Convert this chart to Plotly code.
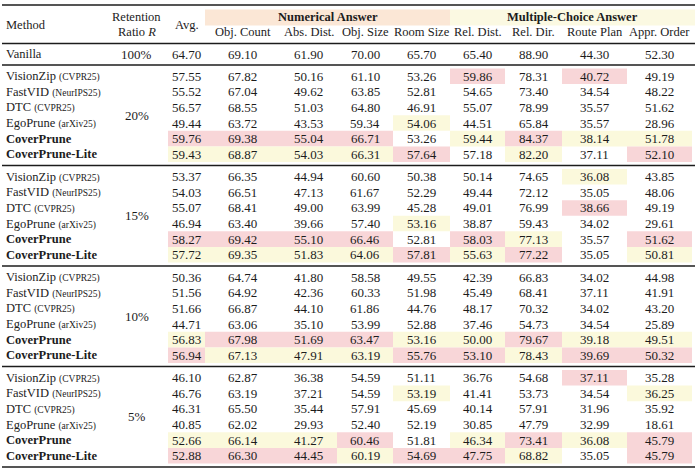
import plotly.graph_objects as go

# table content
columns = ["Avg.", "Obj. Count", "Abs. Dist.", "Obj. Size", "Room Size",
           "Rel. Dist.", "Rel. Dir.", "Route Plan", "Appr. Order"]
methods = ["VisionZip", "FastVID", "DTC", "EgoPrune", "CoverPrune", "CoverPrune-Lite"]
venues = ["CVPR25", "NeurIPS25", "CVPR25", "arXiv25", "", ""]
ratios = ["20%", "15%", "10%", "5%"]

vanilla = [64.70, 69.10, 61.90, 70.00, 65.70, 65.40, 88.90, 44.30, 52.30]

r20 = [
    [57.55, 67.82, 50.16, 61.10, 53.26, 59.86, 78.31, 40.72, 49.19],
    [55.52, 67.04, 49.62, 63.85, 52.81, 54.65, 73.40, 34.54, 48.22],
    [56.57, 68.55, 51.03, 64.80, 46.91, 55.07, 78.99, 35.57, 51.62],
    [49.44, 63.72, 43.53, 59.34, 54.06, 44.51, 65.84, 35.57, 28.96],
    [59.76, 69.38, 55.04, 66.71, 53.26, 59.44, 84.37, 38.14, 51.78],
    [59.43, 68.87, 54.03, 66.31, 57.64, 57.18, 82.20, 37.11, 52.10],
]
r15 = [
    [53.37, 66.35, 44.94, 60.60, 50.38, 50.14, 74.65, 36.08, 43.85],
    [54.03, 66.51, 47.13, 61.67, 52.29, 49.44, 72.12, 35.05, 48.06],
    [55.07, 68.41, 49.00, 63.99, 45.28, 49.01, 76.99, 38.66, 49.19],
    [46.94, 63.40, 39.66, 57.40, 53.16, 38.87, 59.43, 34.02, 29.61],
    [58.27, 69.42, 55.10, 66.46, 52.81, 58.03, 77.13, 35.57, 51.62],
    [57.72, 69.35, 51.83, 64.06, 57.81, 55.63, 77.22, 35.05, 50.81],
]
r10 = [
    [50.36, 64.74, 41.80, 58.58, 49.55, 42.39, 66.83, 34.02, 44.98],
    [51.56, 64.92, 42.36, 60.33, 51.98, 45.49, 68.41, 37.11, 41.91],
    [51.66, 66.87, 44.10, 61.86, 44.76, 48.17, 70.32, 34.02, 43.20],
    [44.71, 63.06, 35.10, 53.99, 52.88, 37.46, 54.73, 34.54, 25.89],
    [56.83, 67.98, 51.69, 63.47, 53.16, 50.00, 79.67, 39.18, 49.51],
    [56.94, 67.13, 47.91, 63.19, 55.76, 53.10, 78.43, 39.69, 50.32],
]
r5 = [
    [46.10, 62.87, 36.38, 54.59, 51.11, 36.76, 54.68, 37.11, 35.28],
    [46.76, 63.19, 37.21, 54.59, 53.19, 41.41, 53.73, 34.54, 36.25],
    [46.31, 65.50, 35.44, 57.91, 45.69, 40.14, 57.91, 31.96, 35.92],
    [40.85, 62.02, 29.93, 52.40, 52.19, 30.85, 47.79, 32.99, 18.61],
    [52.66, 66.14, 41.27, 60.46, 51.81, 46.34, 73.41, 36.08, 45.79],
    [52.88, 66.30, 44.45, 60.19, 54.69, 47.75, 68.82, 35.05, 45.79],
]
blocks = [r20, r15, r10, r5]

# layout / style
W, H = 698, 471
FONT = "Liberation Serif"
INK = "#1c1c1c"
RED = "#f8d6d8"
YEL = "#fbf9dc"
NUM_FILL = "#fbe7d6"
MC_FILL = "#fbf9e2"
edges = [0, 105, 168, 205, 280, 337, 393, 450, 505, 562, 627, 692]
centers = [(edges[i] + edges[i + 1]) / 2 for i in range(len(edges) - 1)]
block_top = [65, 165.5, 266, 366.5]
row_gap = 15.6
first_off = 11.25

fig = go.Figure()
fig.add_trace(go.Scatter(x=[0, W], y=[0, H], mode="markers",
                         marker=dict(opacity=0), hoverinfo="skip", showlegend=False))

shapes = []
ann = []


def txt(x, y, s, size=12.5, anchor="center"):
    ann.append(dict(x=x, y=y, xref="x", yref="y", text=s, showarrow=False,
                    xanchor=anchor, yanchor="middle",
                    font=dict(family=FONT, size=size, color=INK)))


def rect(x0, x1, y0, y1, color):
    shapes.append(dict(type="rect", xref="x", yref="y", x0=x0, x1=x1, y0=y0, y1=y1,
                       fillcolor=color, line=dict(width=0), layer="below"))


def rule(y, w=1.3):
    shapes.append(dict(type="line", xref="x", yref="y", x0=2, x1=695, y0=y, y1=y,
                       line=dict(color=INK, width=w)))


# header
rect(edges[3], edges[7], 9.5, 25.5, NUM_FILL)
rect(edges[7], 695, 9.5, 25.5, MC_FILL)
txt(4, 24.5, "Method", anchor="left")
txt(centers[1], 17, "Retention")
txt(centers[1], 32, "Ratio <i>R</i>")
txt(centers[2], 24.5, columns[0])
txt((edges[3] + edges[7]) / 2, 17, "<b>Numerical Answer</b>")
txt((edges[7] + 695) / 2, 17, "<b>Multiple-Choice Answer</b>")
for j, c in enumerate(columns[1:]):
    txt(centers[3 + j], 32, c)

# vanilla
txt(4, 54, "Vanilla", anchor="left")
txt(centers[1], 54, "100%", size=13)
for j, v in enumerate(vanilla):
    txt(centers[2 + j], 54, f"{v:.2f}", size=13)

rule(5, 1.6)
rule(43.5)
for t in block_top:
    rule(t)
rule(467, 1.6)

# blocks: best value per column in red, second best in yellow
for b, rows in enumerate(blocks):
    ys = [block_top[b] + first_off + i * row_gap for i in range(len(rows))]
    txt(centers[1], (ys[0] + ys[-1]) / 2, ratios[b], size=13)
    for i, name in enumerate(methods):
        if venues[i]:
            label = f"{name} <span style='font-size:9.5px'>({venues[i]})</span>"
        else:
            label = f"<b>{name}</b>"
        txt(4, ys[i], label, anchor="left")
    for j in range(len(columns)):
        col = [r[j] for r in rows]
        ranked = sorted(set(col), reverse=True)
        for i, v in enumerate(col):
            if v == ranked[0]:
                rect(edges[2 + j], edges[3 + j], ys[i] - 7.8, ys[i] + 7.8, RED)
            elif v == ranked[1]:
                rect(edges[2 + j], edges[3 + j], ys[i] - 7.8, ys[i] + 7.8, YEL)
            txt(centers[2 + j], ys[i], f"{v:.2f}", size=13)

fig.update_layout(
    width=W, height=H, margin=dict(l=0, r=0, t=0, b=0),
    paper_bgcolor="white", plot_bgcolor="white",
    xaxis=dict(range=[0, W], visible=False, fixedrange=True),
    yaxis=dict(range=[H, 0], visible=False, fixedrange=True),
    shapes=shapes, annotations=ann, showlegend=False,
)
fig.write_html("out.html", config={"displayModeBar": False},
               post_script="document.body.style.margin='0';")
